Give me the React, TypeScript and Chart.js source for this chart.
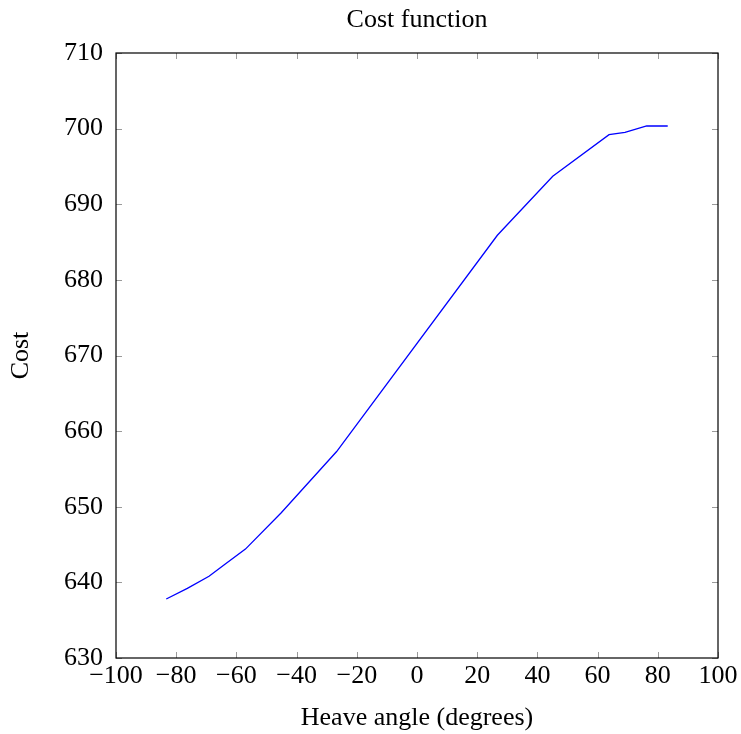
import React, { useEffect, useRef } from "react";
import { Chart, registerables } from "chart.js";

Chart.register(...registerables);

// Heave angle (degrees) and the corresponding cost
const heaveAngles = [-83.3, -76.3, -69.1, -63.8, -57.0, -45.1, -26.7, 26.7, 45.1, 63.8, 69.1, 76.3, 83.3];
const costValues = [637.8, 639.2, 640.8, 642.4, 644.4, 649.2, 657.3, 685.9, 693.7, 699.2, 699.5, 700.35, 700.35];

const xTicks = [-100, -80, -60, -40, -20, 0, 20, 40, 60, 80, 100];
const yTicks = [630, 640, 650, 660, 670, 680, 690, 700, 710];

const FONT = "'Liberation Serif', 'DejaVu Serif', serif";
const SIZE = 26;

const fmt = (v: number) => String(v).replace("-", "\u2212");

// Frame with inward ticks on all four sides plus the chart title
const framePlugin = {
  id: "frame",
  afterDatasetsDraw(chart: any) {
    const { ctx, chartArea: a, scales } = chart;
    const xs = scales.x;
    const ys = scales.y;
    const len = 6;
    ctx.save();
    ctx.strokeStyle = "#9a9a9a";
    ctx.lineWidth = 1;
    ctx.beginPath();
    for (const t of xTicks) {
      const px = Math.round(xs.getPixelForValue(t)) + 0.5;
      ctx.moveTo(px, a.bottom);
      ctx.lineTo(px, a.bottom - len);
      ctx.moveTo(px, a.top);
      ctx.lineTo(px, a.top + len);
    }
    for (const t of yTicks) {
      const py = Math.round(ys.getPixelForValue(t)) + 0.5;
      ctx.moveTo(a.left, py);
      ctx.lineTo(a.left + len, py);
      ctx.moveTo(a.right, py);
      ctx.lineTo(a.right - len, py);
    }
    ctx.stroke();
    ctx.strokeStyle = "#000";
    ctx.lineWidth = 1.2;
    ctx.strokeRect(a.left, a.top, a.right - a.left, a.bottom - a.top);
    ctx.fillStyle = "#000";
    ctx.font = `${SIZE}px ${FONT}`;
    ctx.textAlign = "center";
    ctx.textBaseline = "middle";
    ctx.fillText("Cost function", (a.left + a.right) / 2, 20);
    ctx.restore();
  },
};

export default function App() {
  const ref = useRef<HTMLCanvasElement | null>(null);

  useEffect(() => {
    if (!ref.current) return;
    const chart = new Chart(ref.current, {
      type: "line",
      data: {
        datasets: [
          {
            data: heaveAngles.map((x, i) => ({ x, y: costValues[i] })),
            borderColor: "#0000ff",
            borderWidth: 1.3,
            pointRadius: 0,
            fill: false,
            tension: 0,
          },
        ],
      },
      options: {
        animation: false,
        responsive: false,
        layout: { padding: { top: 53, right: 23, left: 0, bottom: 0 } },
        plugins: { legend: { display: false }, title: { display: false }, tooltip: { enabled: false } },
        scales: {
          x: {
            type: "linear",
            min: -100,
            max: 100,
            afterFit: (s: any) => {
              s.height = 76;
            },
            afterBuildTicks: (s: any) => {
              s.ticks = xTicks.map((v) => ({ value: v }));
            },
            grid: { display: false },
            border: { display: false },
            ticks: {
              color: "#000",
              font: { family: FONT, size: SIZE },
              padding: -5,
              maxRotation: 0,
              autoSkip: false,
              callback: (v: any) => fmt(Number(v)),
            },
            title: {
              display: true,
              text: "Heave angle (degrees)",
              color: "#000",
              font: { family: FONT, size: SIZE },
              padding: { top: 0, bottom: 0 },
            },
          },
          y: {
            type: "linear",
            min: 630,
            max: 710,
            afterFit: (s: any) => {
              s.width = 116;
            },
            afterBuildTicks: (s: any) => {
              s.ticks = yTicks.map((v) => ({ value: v }));
            },
            grid: { display: false },
            border: { display: false },
            ticks: {
              color: "#000",
              font: { family: FONT, size: SIZE },
              padding: 5,
              autoSkip: false,
              callback: (v: any) => fmt(Number(v)),
            },
            title: {
              display: true,
              text: "Cost",
              color: "#000",
              font: { family: FONT, size: SIZE },
              padding: { top: 6, bottom: 4 },
            },
          },
        },
      },
      plugins: [framePlugin],
    });
    return () => chart.destroy();
  }, []);

  return (
    <div style={{ position: "absolute", left: 0, top: 0, width: 741, height: 734, background: "#fff" }}>
      <canvas ref={ref} width={741} height={734} style={{ width: 741, height: 734 }} />
    </div>
  );
}
